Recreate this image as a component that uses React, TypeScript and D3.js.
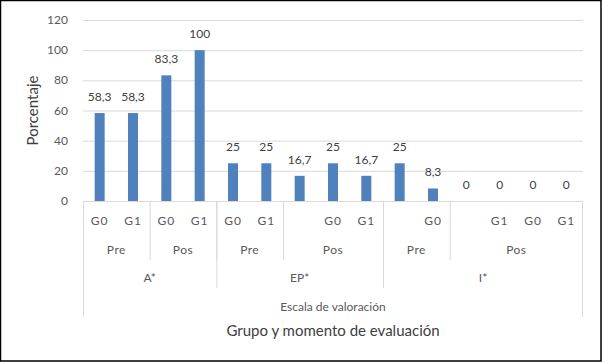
import React, { useEffect, useRef } from "react";
import * as d3 from "d3";

const values = [58.3, 58.3, 83.3, 100, 25, 25, 16.7, 25, 16.7, 25, 8.3, 0, 0, 0, 0];
const valueLabels = ["58,3", "58,3", "83,3", "100", "25", "25", "16,7", "25", "16,7", "25", "8,3", "0", "0", "0", "0"];
const groupLabels = ["G0", "G1", "G0", "G1", "G0", "G1", "", "G0", "G1", "", "G0", "", "G1", "G0", "G1"];
const momentLabels = ["Pre", "Pre", "Pos", "Pos", "Pre", "Pre", "Pos", "Pos", "Pos", "Pre", "Pre", "Pos", "Pos", "Pos", "Pos"];
const scaleLabels = ["A*", "A*", "A*", "A*", "EP*", "EP*", "EP*", "EP*", "EP*", "I*", "I*", "I*", "I*", "I*", "I*"];
const yTicks = [0, 20, 40, 60, 80, 100, 120];

const font = "Lato, 'Open Sans', sans-serif";

// contiguous runs of equal labels, as [start, end] indices
const runs = (labels: string[], parent?: string[]) => {
  const out: { label: string; start: number; end: number }[] = [];
  labels.forEach((l, i) => {
    const last = out[out.length - 1];
    if (last && last.label === l && (!parent || parent[i] === parent[i - 1])) last.end = i;
    else out.push({ label: l, start: i, end: i });
  });
  return out;
};

const App = () => {
  const ref = useRef<SVGSVGElement>(null);

  useEffect(() => {
    const width = 603,
      height = 363;
    const left = 83,
      right = 583,
      top = 20,
      bottom = 201;

    const svg = d3.select(ref.current);
    svg.selectAll("*").remove();

    svg.append("rect").attr("width", width).attr("height", height).attr("fill", "#fff");

    const x = d3
      .scaleBand<number>()
      .domain(values.map((_, i) => i))
      .range([left, right]);
    const y = d3.scaleLinear().domain([0, 120]).range([bottom, top]);

    // gridlines
    svg
      .selectAll("line.grid")
      .data(yTicks)
      .join("line")
      .attr("x1", left)
      .attr("x2", right)
      .attr("y1", (d) => y(d) + 0.5)
      .attr("y2", (d) => y(d) + 0.5)
      .attr("stroke", "#d9d9d9")
      .attr("stroke-width", 1);

    svg
      .selectAll("text.ytick")
      .data(yTicks)
      .join("text")
      .attr("x", 68)
      .attr("y", (d) => y(d) + 4)
      .attr("text-anchor", "end")
      .style("font-family", font)
      .style("font-size", "12px")
      .attr("fill", "#595959")
      .text((d) => d);

    // bars
    const bw = 10;
    svg
      .selectAll("rect.bar")
      .data(values)
      .join("rect")
      .attr("x", (_, i) => x(i)! + x.bandwidth() / 2 - bw / 2)
      .attr("y", (d) => y(d))
      .attr("width", bw)
      .attr("height", (d) => bottom - y(d))
      .attr("fill", "#4f81bd");

    svg
      .selectAll("text.val")
      .data(values)
      .join("text")
      .attr("x", (_, i) => x(i)! + x.bandwidth() / 2)
      .attr("y", (d) => y(d) - 12)
      .attr("text-anchor", "middle")
      .style("font-family", font)
      .style("font-size", "12px")
      .attr("fill", "#404040")
      .text((_, i) => valueLabels[i]);

    // category levels
    const sep = (i: number, y2: number) =>
      svg
        .append("line")
        .attr("x1", x(i)! + 0.5)
        .attr("x2", x(i)! + 0.5)
        .attr("y1", bottom)
        .attr("y2", y2)
        .attr("stroke", "#d9d9d9");

    const cx = (s: number, e: number) => (x(s)! + x(e)! + x.bandwidth()) / 2;

    groupLabels.forEach((l, i) => {
      svg
        .append("text")
        .attr("x", x(i)! + x.bandwidth() / 2)
        .attr("y", 225)
        .attr("text-anchor", "middle")
        .style("font-family", font)
        .style("font-size", "12px")
        .style("letter-spacing", "1px")
        .attr("fill", "#595959")
        .text(l);
    });

    runs(momentLabels, scaleLabels).forEach((r) => {
      if (r.start > 0) sep(r.start, 260);
      svg
        .append("text")
        .attr("x", cx(r.start, r.end))
        .attr("y", 254)
        .attr("text-anchor", "middle")
        .style("font-family", font)
        .style("font-size", "12px")
        .style("letter-spacing", "0.5px")
        .attr("fill", "#595959")
        .text(r.label);
    });

    runs(scaleLabels).forEach((r) => {
      if (r.start > 0) sep(r.start, 288);
      svg
        .append("text")
        .attr("x", cx(r.start, r.end))
        .attr("y", 282)
        .attr("text-anchor", "middle")
        .style("font-family", font)
        .style("font-size", "12px")
        .attr("fill", "#595959")
        .text(r.label);
    });

    svg.append("line").attr("x1", left + 0.5).attr("x2", left + 0.5).attr("y1", bottom).attr("y2", 317).attr("stroke", "#d9d9d9");
    svg.append("line").attr("x1", right - 0.5).attr("x2", right - 0.5).attr("y1", bottom).attr("y2", 317).attr("stroke", "#d9d9d9");

    svg
      .append("text")
      .attr("x", (left + right) / 2)
      .attr("y", 311)
      .attr("text-anchor", "middle")
      .style("font-family", font)
      .style("font-size", "12px")
      .attr("fill", "#595959")
      .text("Escala de valoración");

    // axis titles
    svg
      .append("text")
      .attr("x", (left + right) / 2)
      .attr("y", 336)
      .attr("text-anchor", "middle")
      .style("font-family", font)
      .style("font-size", "15px")
      .attr("fill", "#404040")
      .text("Grupo y momento de evaluación");

    svg
      .append("text")
      .attr("transform", `translate(38, ${(top + bottom) / 2}) rotate(-90)`)
      .attr("text-anchor", "middle")
      .style("font-family", font)
      .style("font-size", "15px")
      .attr("fill", "#404040")
      .text("Porcentaje");

    // outer border
    svg
      .append("rect")
      .attr("x", 0.5)
      .attr("y", 0.5)
      .attr("width", width - 2.5)
      .attr("height", height - 2.5)
      .attr("fill", "none")
      .attr("stroke", "#000")
      .attr("stroke-width", 1.5);
  }, []);

  return (
    <svg
      ref={ref}
      width={603}
      height={363}
      style={{ position: "fixed", top: 0, left: 0, display: "block" }}
    />
  );
};

export default App;
